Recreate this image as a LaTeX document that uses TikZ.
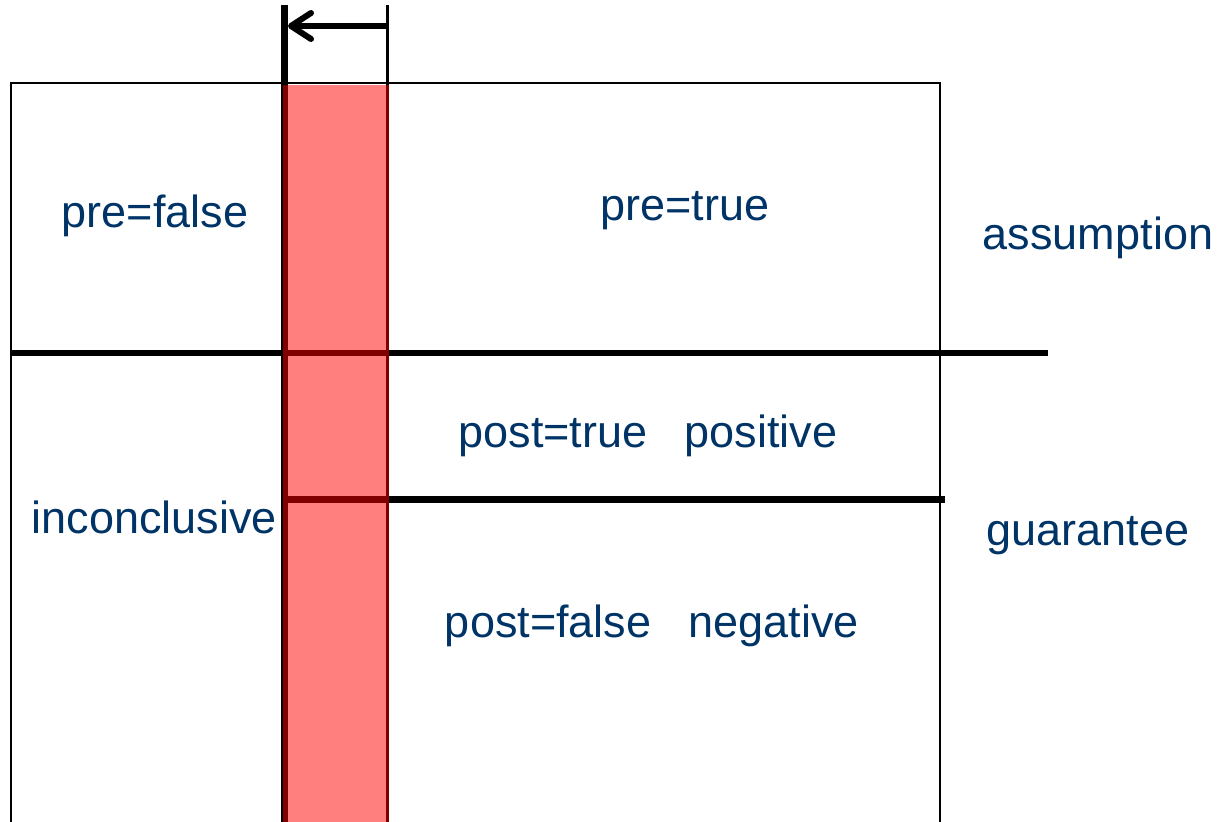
\documentclass[tikz,border=0pt]{standalone}
\usepackage{fontspec}
\setmainfont{Liberation Sans}
\usetikzlibrary{arrows.meta}
\definecolor{labelblue}{RGB}{0,51,102}
\begin{document}
\begin{tikzpicture}[x=0.5pt,y=-0.5pt,
  labeltext/.style={text=labelblue, font=\fontsize{22.5}{27}\selectfont, inner sep=0pt, anchor=base},
  frameline/.style={line width=1.4pt},
  divider/.style={line width=2.6pt},
  boldrule/.style={line width=3.6pt},
  markerline/.style={line width=1.5pt},
  window/.style={fill=red, fill opacity=0.5},
  shiftarrow/.style={line width=3pt, line cap=butt, -{Straight Barb[length=10pt,width=13pt,round]}}]
\useasboundingbox (0,0) rectangle (1225,822);

% key points
\coordinate (boxBL) at (11,822);
\coordinate (boxTL) at (11,83);
\coordinate (boxTR) at (940,83);
\coordinate (boxBR) at (940,822);
\coordinate (assumeL) at (11,353);
\coordinate (assumeR) at (1048,353);
\coordinate (guarL) at (284.5,499.5);
\coordinate (guarR) at (945,499.5);
\coordinate (nowTop) at (284.5,5);
\coordinate (nowBot) at (284.5,822);
\coordinate (edgeTop) at (387.5,5);
\coordinate (edgeBot) at (387.5,822);
\coordinate (arrowFrom) at (387.5,26);
\coordinate (arrowTo) at (288,26);

% outer frame, open at the bottom
\draw[frameline] (boxBL) -- (boxTL) -- (boxTR) -- (boxBR);

% assumption / guarantee dividers
\draw[divider] (assumeL) -- (assumeR);
\draw[boldrule] (guarL) -- (guarR);

% current time line and window edge
\draw[line width=3.6pt] (nowTop) -- (nowBot);
\draw[markerline] (edgeTop) -- (edgeBot);

% window shift arrow
\draw[shiftarrow] (arrowFrom) -- (arrowTo);

% translucent window
\fill[window] (283,85) rectangle (389,822);

% labels
\node[labeltext] (prefalse) at (155,228) {pre=false};
\node[labeltext] (pretrue) at (685,221) {pre=true};
\node[labeltext] (assumption) at (1098,250) {assumption};
\node[labeltext] (posttrue) at (648,448) {post=true~~~positive};
\node[labeltext] (inconclusive) at (154.5,534) {inconclusive};
\node[labeltext] (guarantee) at (1088,546) {guarantee};
\node[labeltext] (postfalse) at (652,638) {post=false~~~negative};
\end{tikzpicture}
\end{document}
